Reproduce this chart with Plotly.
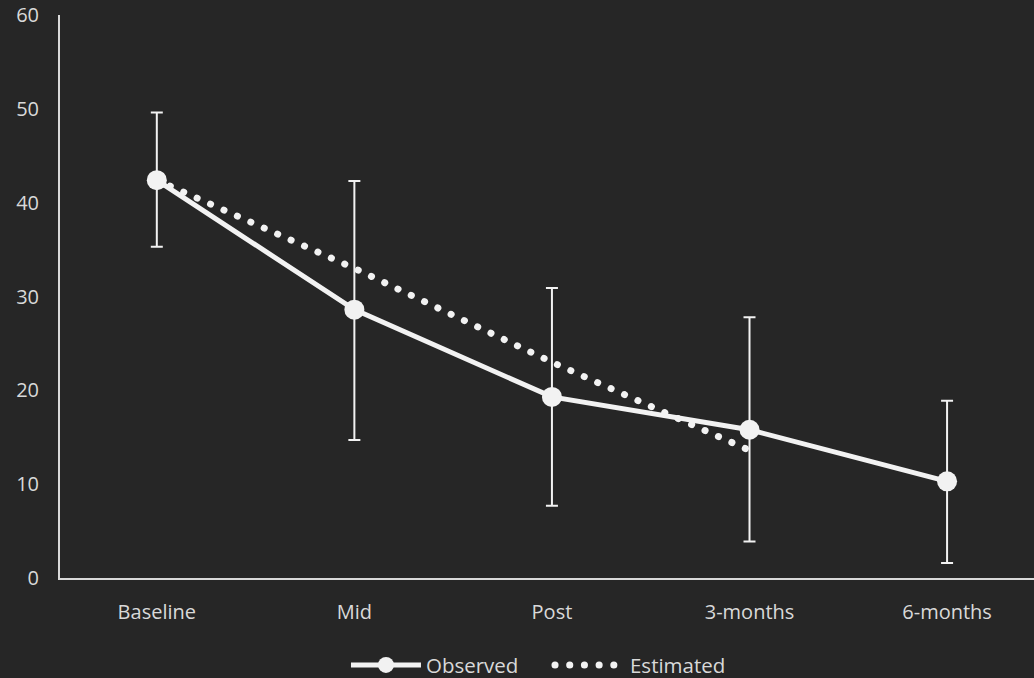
import plotly.graph_objects as go

categories = ["Baseline", "Mid", "Post", "3-months", "6-months"]
observed = [42.4, 28.6, 19.3, 15.8, 10.3]
err_plus = [7.2, 13.7, 11.6, 12.0, 8.6]
err_minus = [7.1, 13.9, 11.6, 11.9, 8.7]
est_categories = ["Baseline", "Mid", "Post", "3-months"]
estimated = [42.4, 33.0, 23.0, 13.6]

fg = "#f2f2f2"
txt = "#d9d9d9"
bg = "#262626"

fig = go.Figure()
fig.add_trace(go.Scatter(
    x=categories, y=observed, name="Observed", mode="lines+markers",
    line=dict(color=fg, width=5),
    marker=dict(color=fg, size=20),
    error_y=dict(type="data", array=err_plus, arrayminus=err_minus,
                 color=fg, thickness=2, width=6),
))
fig.add_trace(go.Scatter(
    x=est_categories, y=estimated, name="Estimated", mode="lines",
    line=dict(color=fg, width=7, dash="0.1px,14.6px"),
))

fig.update_layout(
    width=1034, height=678,
    paper_bgcolor=bg, plot_bgcolor=bg,
    margin=dict(l=60, r=0, t=15, b=100, autoexpand=False),
    font=dict(family="Open Sans, Noto Sans, sans-serif", size=20, color=txt),
    showlegend=True,
    legend=dict(orientation="h", xref="container", yref="container",
                x=0.3346, xanchor="left", y=0.019, yanchor="middle",
                font=dict(size=20.5, color=txt),
                bgcolor="rgba(0,0,0,0)", itemwidth=70,
                entrywidth=119, entrywidthmode="pixels"),
    xaxis=dict(
        type="category", range=[-0.49, 4.44], showgrid=False,
        showline=True, linecolor=txt, linewidth=2, ticks="",
        ticklabelstandoff=15, zeroline=False,
    ),
    yaxis=dict(
        range=[0, 60], dtick=10, showgrid=False, zeroline=False,
        showline=True, linecolor=txt, linewidth=2, ticks="",
        ticklabelstandoff=15,
    ),
)

post = """
document.body.style.margin = '0';
document.body.style.padding = '0';
document.body.style.background = '#262626';
function fixCaps(){
  document.querySelectorAll('path').forEach(function(p){
    var d = p.style.strokeDasharray || p.getAttribute('stroke-dasharray');
    if (d && d.indexOf('0.1') === 0) { p.style.strokeLinecap = 'round'; }
  });
}
fixCaps();
var gd = document.getElementsByClassName('plotly-graph-div')[0];
if (gd && gd.on) { gd.on('plotly_afterplot', fixCaps); }
setTimeout(fixCaps, 300);
"""

fig.write_html("out.html", post_script=post, config={"displayModeBar": False})
